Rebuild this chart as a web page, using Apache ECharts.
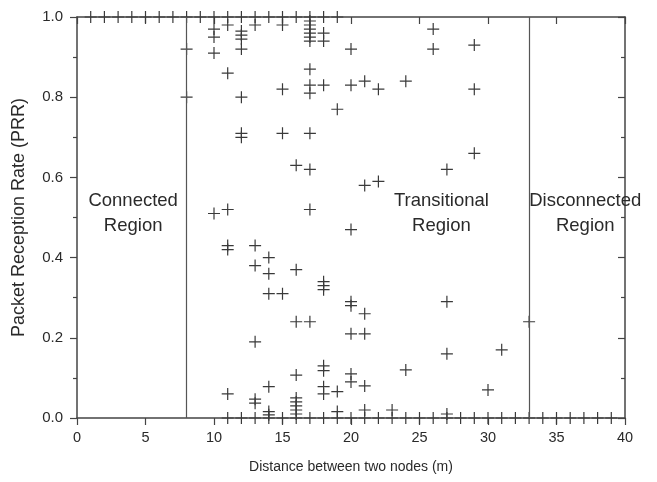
<!DOCTYPE html>
<html>
<head>
<meta charset="utf-8">
<script src="https://cdn.jsdelivr.net/npm/echarts@6/dist/echarts.min.js"></script>
<style>html,body{margin:0;padding:0;background:#fff}#c{width:657px;height:482px}</style>
</head>
<body>
<div id="c"></div>
<script>
// ---- data ----
const xTicks = [0, 5, 10, 15, 20, 25, 30, 35, 40];
const yTicks = [0.0, 0.2, 0.4, 0.6, 0.8, 1.0];
const fullReceptionDistances = [1,2,3,4,5,6,7,8,9,10,11,12,13,14,15,16,17,18,19];
const zeroReceptionDistances = [11,12,13,14,15,16,17,18,19,20,21,22,23,24,25,26,27,28,29,30,31,32,33,34,35,36,37,38,39];
const distances = [8, 10, 11, 12, 13, 14, 15, 16, 17, 18, 19, 20, 21, 22, 23, 24, 26, 27, 29, 30, 31, 33];
const prrByDistance = [
  [0.92, 0.80],
  [0.97, 0.95, 0.91, 0.51],
  [0.98, 0.86, 0.52, 0.43, 0.42, 0.06],
  [0.965, 0.955, 0.945, 0.92, 0.80, 0.71, 0.70],
  [0.98, 0.43, 0.38, 0.19, 0.047, 0.037],
  [0.40, 0.36, 0.31, 0.078, 0.016, 0.008],
  [0.98, 0.82, 0.71, 0.31],
  [0.63, 0.37, 0.24, 0.107, 0.05, 0.04, 0.03, 0.02, 0.01],
  [0.99, 0.98, 0.97, 0.96, 0.95, 0.94, 0.87, 0.83, 0.81, 0.71, 0.62, 0.52, 0.24],
  [0.96, 0.94, 0.83, 0.34, 0.33, 0.32, 0.13, 0.118, 0.078, 0.06],
  [0.77, 0.066, 0.016],
  [0.92, 0.83, 0.47, 0.29, 0.28, 0.21, 0.11, 0.09],
  [0.84, 0.58, 0.26, 0.21, 0.08, 0.02],
  [0.82, 0.59],
  [0.02],
  [0.84, 0.12],
  [0.97, 0.92],
  [0.62, 0.29, 0.16, 0.01],
  [0.93, 0.82, 0.66],
  [0.07],
  [0.17],
  [0.24]
];
const regionBounds = [8, 33];
const regionNames = ['Connected\nRegion', 'Transitional\nRegion', 'Disconnected\nRegion'];
const regionCenters = [4.1, 26.6, 37.1];
const regionLabelPRR = 0.51;

// ---- build ----
const points = [];
fullReceptionDistances.forEach(d => points.push([d, 1.0]));
zeroReceptionDistances.forEach(d => points.push([d, 0.0]));
distances.forEach((d, i) => prrByDistance[i].forEach(v => points.push([d, v])));

const plus = 'path://M5.4,0H6.6V5.4H12V6.6H6.6V12H5.4V6.6H0V5.4H5.4Z';
const axisCol = '#444';
const txt = '#2a2a2a';
const font = 'Liberation Sans, Arial, sans-serif';

const chart = echarts.init(document.getElementById('c'), null, {renderer: 'canvas'});
chart.setOption({
  animation: false,
  backgroundColor: '#fff',
  grid: {left: 77, right: 32, top: 17, bottom: 64, containLabel: false},
  xAxis: [
    {
      type: 'value', min: xTicks[0], max: xTicks[xTicks.length - 1], interval: 5,
      position: 'bottom',
      name: 'Distance between two nodes (m)', nameLocation: 'middle', nameGap: 42,
      nameTextStyle: {fontSize: 14, color: txt, fontFamily: font},
      axisLine: {show: true, onZero: false, lineStyle: {color: axisCol, width: 1.5}},
      axisTick: {show: true, inside: false, length: 7, lineStyle: {color: axisCol, width: 1.2}},
      axisLabel: {fontSize: 14.5, color: txt, fontFamily: font, margin: 12},
      splitLine: {show: false}
    },
    {
      type: 'value', min: xTicks[0], max: xTicks[xTicks.length - 1], interval: 5,
      position: 'top',
      axisLine: {show: true, onZero: false, lineStyle: {color: axisCol, width: 1.5}},
      axisTick: {show: true, inside: true, length: 7, lineStyle: {color: axisCol, width: 1.2}},
      axisLabel: {show: false},
      splitLine: {show: false}
    }
  ],
  yAxis: [
    {
      type: 'value', min: yTicks[0], max: yTicks[yTicks.length - 1], interval: 0.2,
      position: 'left',
      name: 'Packet Reception Rate (PRR)', nameLocation: 'middle', nameGap: 49,
      nameTextStyle: {fontSize: 18, color: txt, fontFamily: font},
      axisLine: {show: true, onZero: false, lineStyle: {color: axisCol, width: 1.5}},
      axisTick: {show: true, inside: false, length: 7, lineStyle: {color: axisCol, width: 1.2}},
      minorTick: {show: true, splitNumber: 2, length: 4, lineStyle: {color: axisCol, width: 1.2}},
      axisLabel: {fontSize: 15, color: txt, fontFamily: font, margin: 14, formatter: v => v.toFixed(1)},
      splitLine: {show: false}
    },
    {
      type: 'value', min: yTicks[0], max: yTicks[yTicks.length - 1], interval: 0.2,
      position: 'right',
      axisLine: {show: true, onZero: false, lineStyle: {color: axisCol, width: 1.5}},
      axisTick: {show: true, inside: true, length: 7, lineStyle: {color: axisCol, width: 1.2}},
      minorTick: {show: true, splitNumber: 2, length: 4, lineStyle: {color: axisCol, width: 1.2}},
      axisLabel: {show: false},
      splitLine: {show: false}
    }
  ],
  series: [
    {
      type: 'scatter',
      xAxisIndex: 0, yAxisIndex: 0,
      symbol: plus, symbolSize: 12,
      itemStyle: {color: '#3a3a3a', opacity: 1},
      data: points,
      clip: false,
      silent: true,
      z: 3,
      markLine: {
        silent: true,
        symbol: ['none', 'none'],
        label: {show: false},
        lineStyle: {color: '#555', width: 1.2, type: 'solid', opacity: 1},
        data: regionBounds.map(b => ({xAxis: b}))
      }
    },
    {
      type: 'scatter',
      xAxisIndex: 0, yAxisIndex: 0,
      symbolSize: 0,
      silent: true,
      z: 5,
      itemStyle: {opacity: 1},
      data: regionNames.map((n, i) => ({name: n, value: [regionCenters[i], regionLabelPRR]})),
      label: {
        show: true, position: 'inside', formatter: p => p.name, opacity: 1,
        fontSize: 18.5, lineHeight: 25, color: txt, fontFamily: font, align: 'center', verticalAlign: 'middle'
      }
    }
  ]
});
</script>
</body>
</html>
